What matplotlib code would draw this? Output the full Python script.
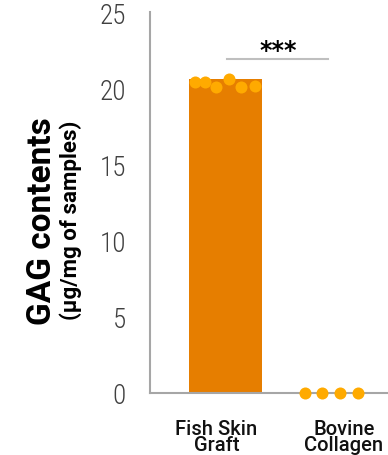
import matplotlib
matplotlib.use("Agg")
import matplotlib.pyplot as plt

categories = ["Fish Skin\nGraft", "Bovine\nCollagen"]
bar_values = [20.6, 0.0]
fish_points = [20.4, 20.4, 20.05, 20.6, 20.05, 20.15]
bovine_points = [0.0, 0.0, 0.0, 0.0]
fish_jitter = [-0.287, -0.192, -0.088, 0.038, 0.149, 0.281]
bovine_jitter = [-0.246, -0.088, 0.085, 0.253]
yticks = [0, 5, 10, 15, 20, 25]
sig_label = "***"
sig_level = 21.9

BAR = "#E67E00"
DOT = "#FFAA00"
AXC = "#A6A6A6"

fig = plt.figure(figsize=(3.88, 4.56), dpi=100)
ax = fig.add_axes([149.5/388, 1-394/456, 1-149.5/388, (394-13)/456])

x = list(range(len(categories)))
ax.bar(x, bar_values, width=0.688, color=BAR, zorder=2)
ax.scatter([x[0] + j for j in fish_jitter], fish_points, s=75, color=DOT, zorder=3, clip_on=False, linewidths=0)
ax.scatter([x[1] + j for j in bovine_jitter], bovine_points, s=75, color=DOT, zorder=4, clip_on=False, linewidths=0)

ax.set_xlim(-0.717, 1.539)
ax.set_ylim(0, 25)
for s in ["top", "right"]:
    ax.spines[s].set_visible(False)
for s in ["left", "bottom"]:
    ax.spines[s].set_color(AXC)
    ax.spines[s].set_linewidth(1.5)

ax.set_yticks(yticks)
ax.set_yticklabels([str(v) for v in yticks], family="Roboto Condensed", fontweight="light", fontsize=19.5, color="#404040")
ax.tick_params(axis="y", length=0, pad=17)
ax.set_xticks([x[0] - 0.085, x[1] + 0.12])
ax.set_xticklabels(categories, family="Roboto", fontweight="medium", fontsize=14.5, color="#111111", linespacing=0.75)
ax.tick_params(axis="x", length=0, pad=19)

ax.plot([x[0] + 0.013, x[1] - 0.028], [sig_level, sig_level], color="#BFBFBF", lw=1.5, clip_on=False)
ax.text((x[0] + x[1]) / 2, sig_level + 0.6, sig_label, ha="center", va="center", fontsize=17, fontweight="bold", family="DejaVu Sans")

fig.text(42.5/388, 1-221/456, "GAG contents", rotation=90, ha="center", va="center", family="Roboto", fontweight="bold", fontsize=24)
fig.text(71/388, 1-220/456, "(µg/mg of samples)", rotation=90, ha="center", va="center", family="Roboto", fontweight="bold", fontsize=16)

fig.savefig("out.png", dpi=100)
